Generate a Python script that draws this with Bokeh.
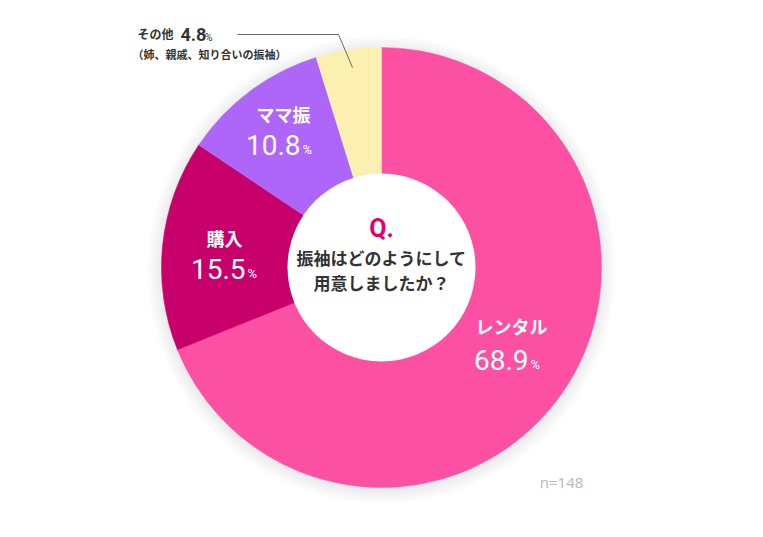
import math
from bokeh.plotting import figure
from bokeh.models import Range1d
from bokeh.core.properties import value
from bokeh.embed import file_html
from bokeh.resources import INLINE

# ---- data ----
categories = ["レンタル", "購入", "ママ振", "その他"]
values = [68.9, 15.5, 10.8, 4.8]
pct_labels = ["68.9", "15.5", "10.8", "4.8"]
colors = ["#fc50a3", "#c8006b", "#ad66f8", "#fcf0b0"]
question = ["振袖はどのようにして", "用意しましたか？"]
note = "（姉、親戚、知り合いの振袖）"
n_label = "n=148"

W, H = 747, 521
p = figure(width=W, height=H, output_backend="svg", toolbar_location=None,
           x_range=Range1d(0, 747), y_range=Range1d(16, 537), min_border=0)
p.axis.visible = False
p.grid.visible = False
p.outline_line_color = None
p.background_fill_color = "white"
p.border_fill_color = "white"

def Y(py):
    return 537 - py

cx, cy = 381, Y(267)
R_out, R_in = 220, 94

# soft shadow
for i in range(10):
    p.circle(x=[cx], y=[cy - 2], radius=R_out + 1 + i * 1.5, fill_color="#000000",
             fill_alpha=0.009, line_color=None)

# wedges (clockwise from top)
total = sum(values)
starts, ends = [], []
acc = 0.0
for v in values:
    a0 = math.pi / 2 - 2 * math.pi * acc / total
    acc += v
    a1 = math.pi / 2 - 2 * math.pi * acc / total
    starts.append(a0)
    ends.append(a1)
p.annular_wedge(x=[cx] * len(values), y=[cy] * len(values), inner_radius=0, outer_radius=R_out,
                start_angle=starts, end_angle=ends, direction="clock",
                fill_color=colors, line_color=colors, line_width=0.5)
p.circle(x=[cx], y=[cy], radius=R_in, fill_color="white", line_color=None)

JP = value("Noto Sans CJK JP")
NUM = value("Roboto")

# inside labels: name center, number right edge / number center
inside = [
    (0, (511, 325), (528, 359)),
    (1, (224, 237), (245, 268)),
    (2, (283, 113), (300, 144)),
]
for idx, (nx, ny), (rx, my) in inside:
    p.text(x=[nx], y=[Y(ny)], text=[categories[idx]], text_font=JP, text_font_style="bold",
           text_font_size="18px", text_color="white", text_align="center", text_baseline="middle")
    p.text(x=[rx], y=[Y(my)], text=[pct_labels[idx]], text_font=NUM, text_font_style="normal",
           text_font_size="28px", text_color="white", text_align="right", text_baseline="middle")
    p.text(x=[rx + 2], y=[Y(my + 5)], text=["%"], text_font=NUM, text_font_style="normal",
           text_font_size="13px", text_color="white", text_align="left", text_baseline="middle")

# outside label for その他
p.text(x=[137], y=[Y(33)], text=[categories[3]], text_font=JP, text_font_style="bold",
       text_font_size="12px", text_color="#333333", text_align="left", text_baseline="middle")
p.text(x=[180], y=[Y(34)], text=[pct_labels[3]], text_font=NUM, text_font_style="bold",
       text_font_size="18px", text_color="#333333", text_align="left", text_baseline="middle")
p.text(x=[204], y=[Y(37)], text=["%"], text_font=NUM, text_font_style="normal",
       text_font_size="11px", text_color="#333333", text_align="left", text_baseline="middle")
p.text(x=[132], y=[Y(53)], text=[note], text_font=JP, text_font_style="bold",
       text_font_size="11px", text_color="#333333", text_align="left", text_baseline="middle")
p.line(x=[237, 338, 352], y=[Y(34), Y(34), Y(67)], line_color="#666666", line_width=1)

# center question
p.text(x=[381], y=[Y(228)], text=["Q."], text_font=NUM, text_font_style="bold",
       text_font_size="25px", text_color="#e5006f", text_align="center", text_baseline="middle")
p.text(x=[381, 381], y=[Y(257), Y(282)], text=question, text_font=JP, text_font_style="bold",
       text_font_size="17px", text_color="#333333", text_align="center", text_baseline="middle")

# n label
p.text(x=[561], y=[Y(481)], text=[n_label], text_font=value("Noto Sans"), text_font_style="normal",
       text_font_size="15px", text_color="#bbbbbb", text_align="center", text_baseline="middle")

open("out.html", "w").write(file_html(p, INLINE))
